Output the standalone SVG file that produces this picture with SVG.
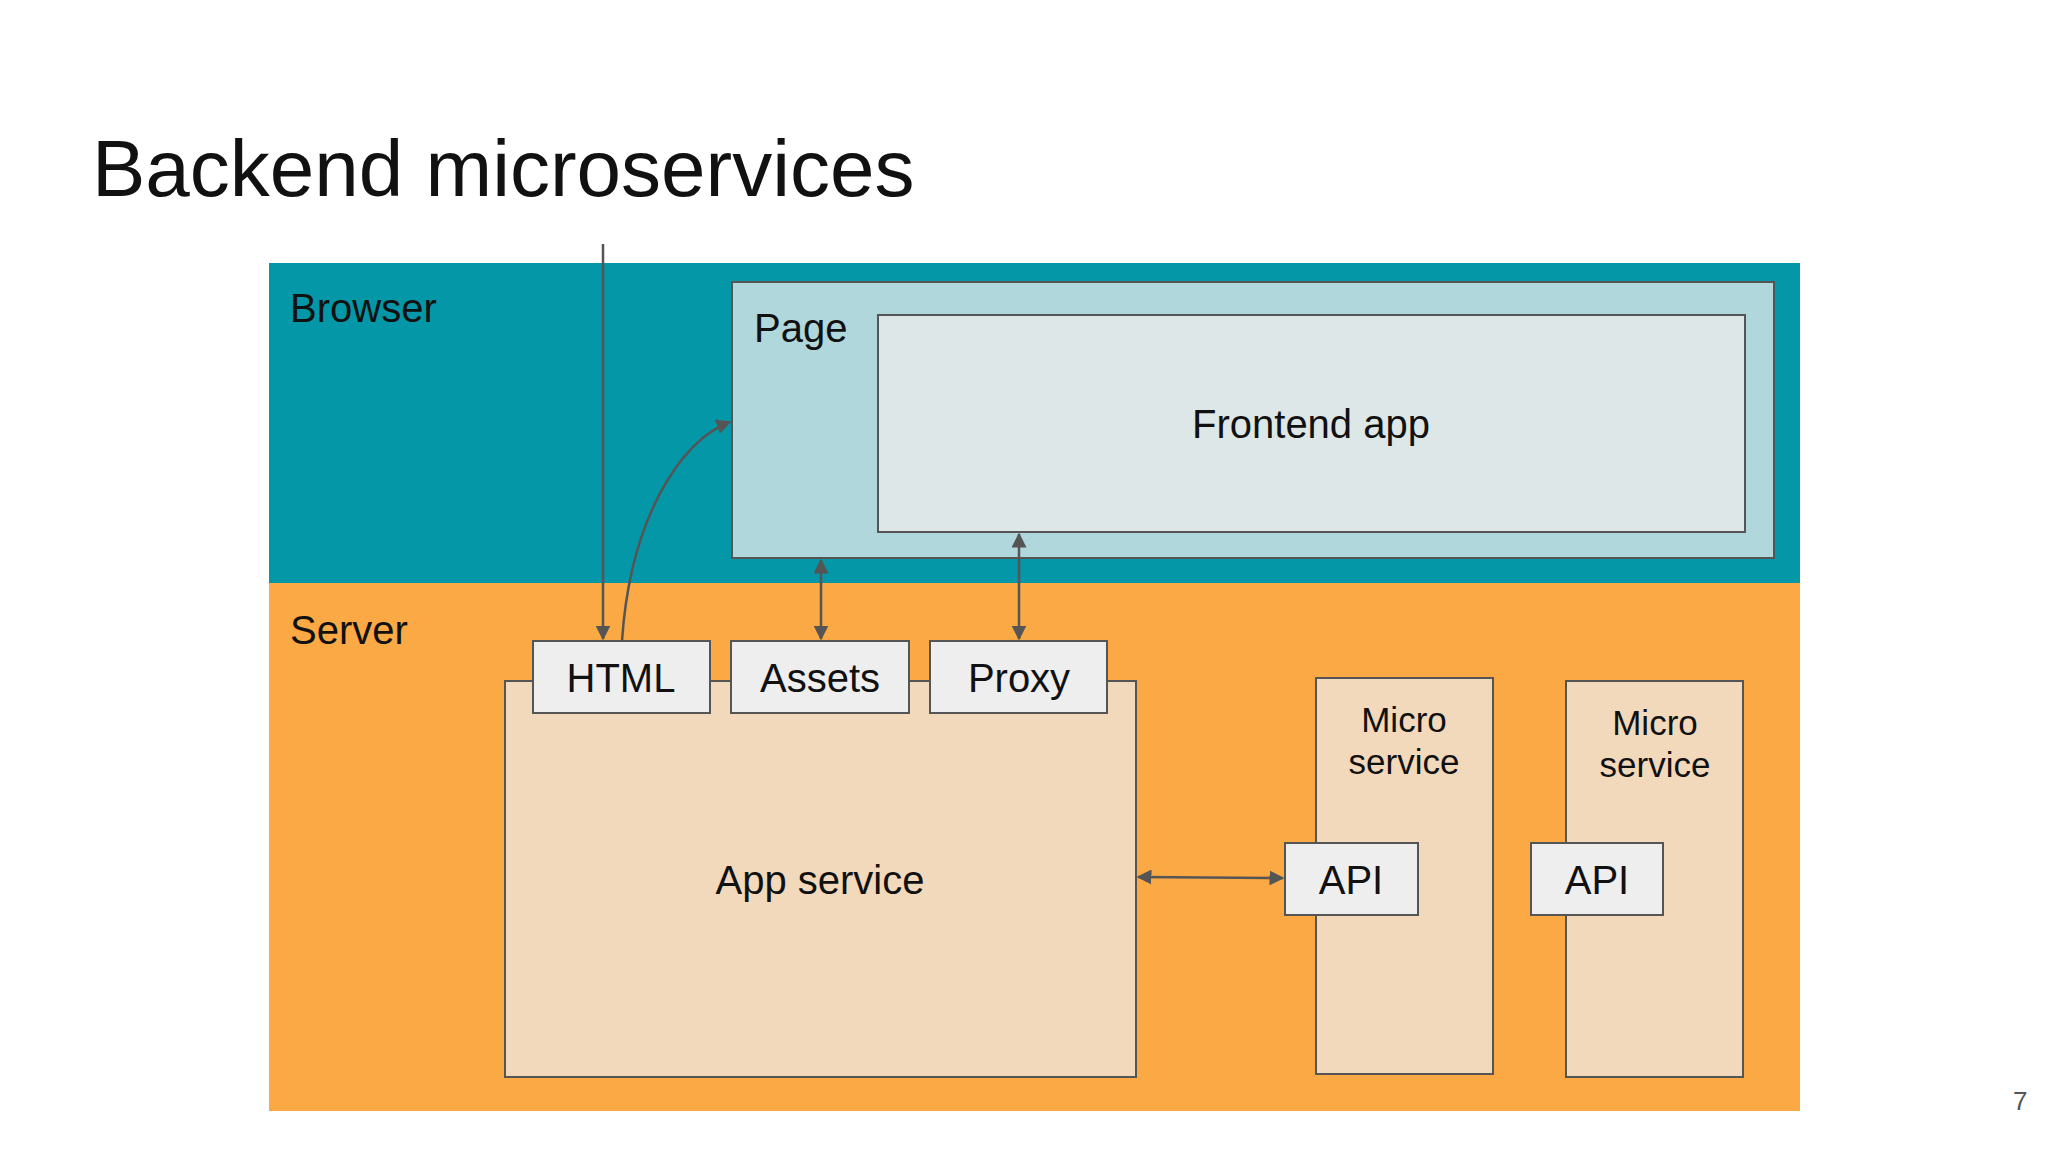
<svg xmlns="http://www.w3.org/2000/svg" width="2048" height="1152" viewBox="0 0 2048 1152">
<defs>
<style>
text{font-family:"Liberation Sans",Arial,sans-serif;fill:#111}
.b{stroke:#555;stroke-width:2}
.l{font-size:40px}
.c{stroke:#555;stroke-width:2.5;fill:none}
</style>
<marker id="a" viewBox="0 0 10 10" refX="9" refY="5" markerWidth="6" markerHeight="6" orient="auto-start-reverse"><path d="M0,0L10,5L0,10z" fill="#555"/></marker>
</defs>
<rect width="2048" height="1152" fill="#fff"/>
<text x="92" y="196" font-size="80">Backend microservices</text>
<g id="browser"><rect x="269" y="263" width="1531" height="320" fill="#0397A8"/><text class="l" x="290" y="322">Browser</text></g>
<g id="server"><rect x="269" y="583" width="1531" height="528" fill="#FBA944"/><text class="l" x="290" y="644">Server</text></g>
<g id="page"><rect class="b" x="732" y="282" width="1042" height="276" fill="#B0D7DC"/><text class="l" x="754" y="342">Page</text></g>
<g id="frontend"><rect class="b" x="878" y="315" width="867" height="217" fill="#DDE7E7"/><text class="l" x="1311" y="438" text-anchor="middle">Frontend app</text></g>
<g id="app"><rect class="b" x="505" y="681" width="631" height="396" fill="#F2D9BC"/><text class="l" x="820" y="894" text-anchor="middle">App service</text></g>
<g id="html"><rect class="b" x="533" y="641" width="177" height="72" fill="#EEEEEE"/><text class="l" x="621" y="692" text-anchor="middle">HTML</text></g>
<g id="assets"><rect class="b" x="731" y="641" width="178" height="72" fill="#EEEEEE"/><text class="l" x="820" y="692" text-anchor="middle">Assets</text></g>
<g id="proxy"><rect class="b" x="930" y="641" width="177" height="72" fill="#EEEEEE"/><text class="l" x="1019" y="692" text-anchor="middle">Proxy</text></g>
<g id="micro1"><rect class="b" x="1316" y="678" width="177" height="396" fill="#F2D9BC"/><text x="1404" y="732" font-size="35" text-anchor="middle">Micro</text><text x="1404" y="774" font-size="35" text-anchor="middle">service</text></g>
<g id="micro2"><rect class="b" x="1566" y="681" width="177" height="396" fill="#F2D9BC"/><text x="1655" y="735" font-size="35" text-anchor="middle">Micro</text><text x="1655" y="777" font-size="35" text-anchor="middle">service</text></g>
<g id="api1"><rect class="b" x="1285" y="843" width="133" height="72" fill="#EEEEEE"/><text class="l" x="1351" y="894" text-anchor="middle">API</text></g>
<g id="api2"><rect class="b" x="1531" y="843" width="132" height="72" fill="#EEEEEE"/><text class="l" x="1597" y="894" text-anchor="middle">API</text></g>
<g id="connectors">
<line class="c" x1="603" y1="244" x2="603" y2="639" marker-end="url(#a)"/>
<path class="c" d="M622,641 C630,520 680,440 730,422" marker-end="url(#a)"/>
<line class="c" x1="821" y1="560" x2="821" y2="639" marker-start="url(#a)" marker-end="url(#a)"/>
<line class="c" x1="1019" y1="534" x2="1019" y2="639" marker-start="url(#a)" marker-end="url(#a)"/>
<line class="c" x1="1138" y1="877" x2="1283" y2="878" marker-start="url(#a)" marker-end="url(#a)"/>
</g>
<text x="2013" y="1110" font-size="26" fill="#555" style="fill:#555">7</text>
</svg>
